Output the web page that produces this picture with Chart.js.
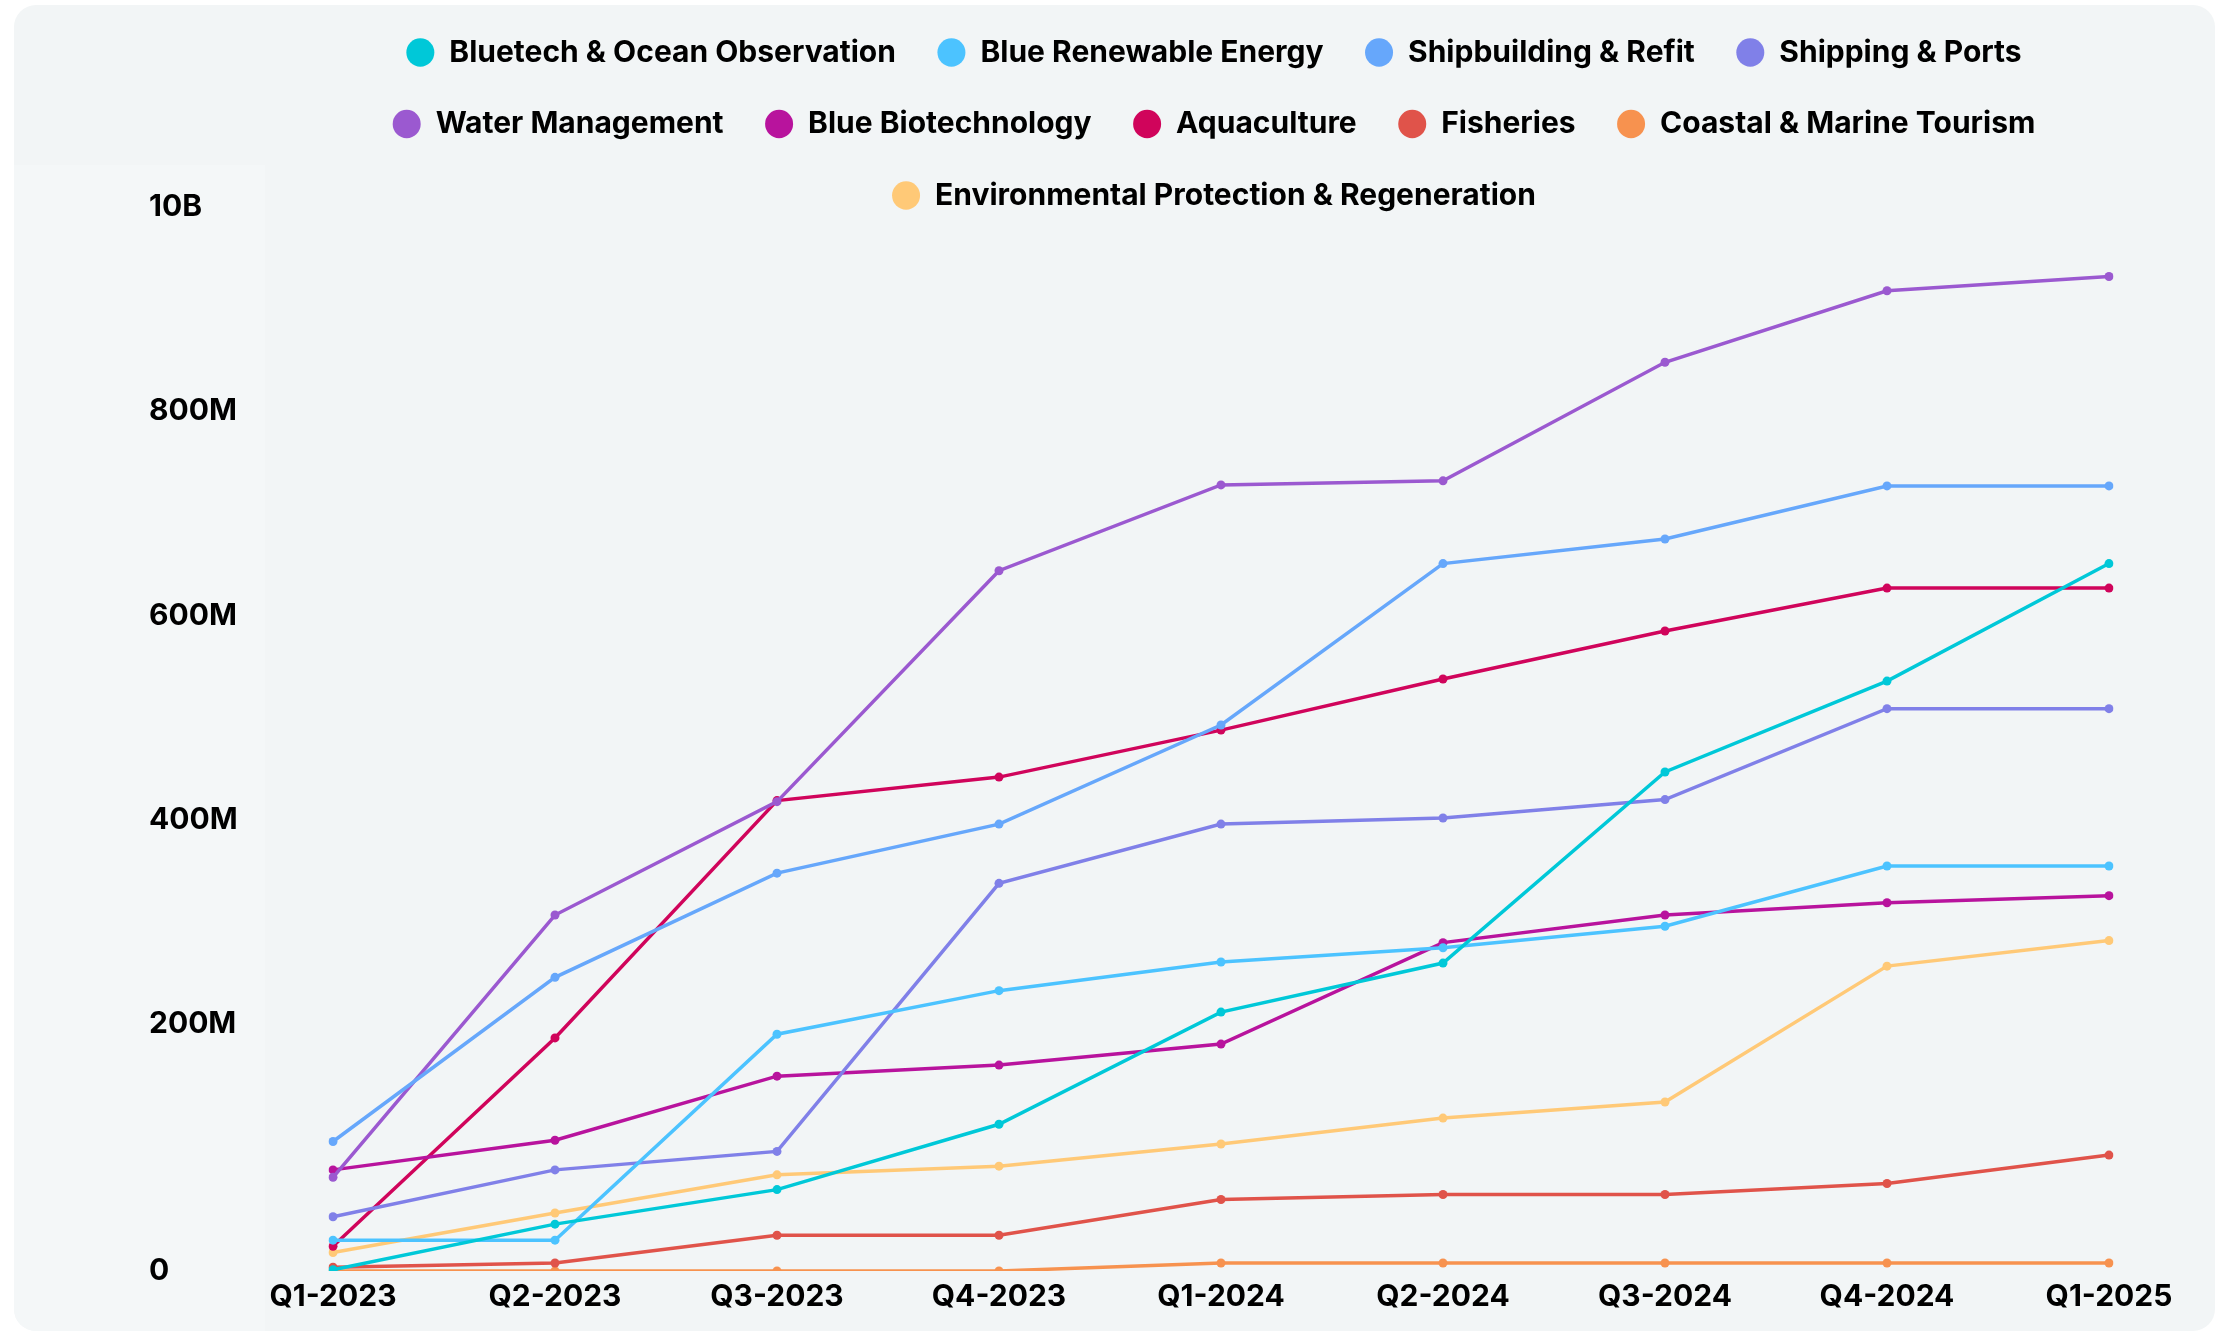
<!DOCTYPE html>
<html lang="en">
<head>
    <meta charset="UTF-8">
    <title>Blue Economy Funding by Sector</title>
    <script src="https://cdn.jsdelivr.net/npm/chart.js@4"></script>
    <style>
        body {
            margin: 0;
            background-color: #ffffff;
            font-family: Inter, sans-serif;
        }
        .card {
            position: absolute;
            left: 14px;
            top: 5px;
            width: 2201px;
            height: 1326px;
            background-color: #f2f5f6;
            border-radius: 22px;
            overflow: hidden;
        }
        .axis-panel {
            position: absolute;
            left: 0;
            top: 160px;
            width: 251px;
            bottom: 0;
            background-color: #f4f7f8;
        }
        canvas {
            position: absolute;
            left: 0;
            top: 0;
        }
    </style>
</head>
<body>
<div class="card">
    <div class="axis-panel"></div>
    <canvas id="sectorChart" width="2201" height="1326"></canvas>
</div>

<script>
    // values in millions
    const quarters = ['Q1-2023', 'Q2-2023', 'Q3-2023', 'Q4-2023', 'Q1-2024', 'Q2-2024', 'Q3-2024', 'Q4-2024', 'Q1-2025'];

    const bluetech      = [1, 38, 66, 119, 212, 260, 447, 536, 651];
    const renewable     = [25, 25, 192, 233, 261, 275, 296, 355, 355];
    const shipbuilding  = [105, 246, 348, 396, 493, 651, 675, 727, 727];
    const shipping      = [44, 82, 97, 338, 396, 402, 420, 509, 509];
    const water         = [76, 307, 418, 644, 728, 732, 848, 918, 932];
    const biotech       = [82, 106, 158, 167, 184, 280, 307, 319, 326];
    const aquaculture   = [20, 189, 419, 442, 488, 538, 585, 627, 627];
    const fisheries     = [3, 6.5, 29, 29, 58, 62, 62, 71, 94];
    const tourism       = [0, 0, 0, 0, 6.5, 6.5, 6.5, 6.5, 6.5];
    const environmental = [15, 47, 78, 85, 103, 124, 137, 257, 282];

    const yTickValues = [0, 200, 400, 600, 800, 1000];
    const yTickLabels = ['0', '200M', '400M', '600M', '800M', '10B'];

    // linear scale where the first band (0 -> breakValue) gets a fixed share of the height
    class SplitScale extends Chart.LinearScale {
        getPixelForValue(value) {
            if (value === null || value === undefined) return NaN;
            const b = this.options.breakValue;
            const s = this.options.breakShare;
            const d = value <= b
                ? (value - this.min) / (b - this.min) * s
                : s + (value - b) / (this.max - b) * (1 - s);
            return this.getPixelForDecimal(d);
        }
        getValueForPixel(pixel) {
            const b = this.options.breakValue;
            const s = this.options.breakShare;
            const d = this.getDecimalForPixel(pixel);
            return d <= s
                ? this.min + d / s * (b - this.min)
                : b + (d - s) / (1 - s) * (this.max - b);
        }
    }
    SplitScale.id = 'split';
    SplitScale.defaults = Chart.LinearScale.defaults;
    Chart.register(SplitScale);

    // legend sits over the plot only (right of the axis panel), wrapping to that width
    const legendBox = {
        id: 'legendBox',
        afterInit(chart, args, opts) {
            const legend = chart.legend;
            const fit = legend.fit;
            legend.fit = function () {
                const full = this.maxWidth;
                this.maxWidth = opts.right - opts.left;
                fit.call(this);
                this.maxWidth = full;
            };
        },
        afterLayout(chart, args, opts) {
            const legend = chart.legend;
            legend.left = opts.left;
            legend.right = opts.right;
            legend.bottom += 12;
        }
    };

    const font = { family: 'Inter, sans-serif', size: 30, weight: '700' };

    function series(label, data, color) {
        return {
            label: label,
            data: data,
            borderColor: color,
            backgroundColor: color,
            pointBackgroundColor: color,
            pointBorderWidth: 0,
            pointRadius: 4.5,
            borderWidth: 3.5,
            tension: 0,
            fill: false
        };
    }

    new Chart(document.getElementById('sectorChart'), {
        type: 'line',
        data: {
            labels: quarters,
            datasets: [
                series('Bluetech & Ocean Observation', bluetech, '#00c8d8'),
                series('Blue Renewable Energy', renewable, '#4cc3ff'),
                series('Shipbuilding & Refit', shipbuilding, '#66a7fb'),
                series('Shipping & Ports', shipping, '#8080e8'),
                series('Water Management', water, '#9b59d0'),
                series('Blue Biotechnology', biotech, '#b8139d'),
                series('Aquaculture', aquaculture, '#d0045b'),
                series('Fisheries', fisheries, '#e0534a'),
                series('Coastal & Marine Tourism', tourism, '#f7924f'),
                series('Environmental Protection & Regeneration', environmental, '#ffc977')
            ]
        },
        plugins: [legendBox],
        options: {
            responsive: false,
            animation: false,
            events: [],
            layout: {
                padding: { top: -9, left: 135, right: 106, bottom: 0 }
            },
            plugins: {
                tooltip: { enabled: false },
                legendBox: { left: 305, right: 2095 },
                legend: {
                    position: 'top',
                    maxHeight: 211,
                    labels: {
                        usePointStyle: true,
                        pointStyle: 'circle',
                        boxHeight: 20,
                        pointStyleWidth: 28,
                        padding: 41.5,
                        color: '#000000',
                        font: font
                    }
                }
            },
            scales: {
                x: {
                    grid: { display: false, drawTicks: false },
                    border: { display: false },
                    ticks: {
                        color: '#000000',
                        font: font,
                        padding: 8,
                        maxRotation: 0,
                        autoSkip: false
                    },
                    afterFit: (scale) => { scale.height = 60; }
                },
                y: {
                    type: 'split',
                    min: 0,
                    max: 1000,
                    breakValue: 200,
                    breakShare: 0.2318,
                    grid: { display: false, drawTicks: false },
                    border: { display: false },
                    ticks: {
                        color: '#000000',
                        font: font,
                        crossAlign: 'far',
                        autoSkip: false,
                        callback: (value, index) => yTickLabels[index]
                    },
                    afterBuildTicks: (scale) => {
                        scale.ticks = yTickValues.map(v => ({ value: v }));
                    },
                    afterFit: (scale) => {
                        scale.width = 184;
                        scale.paddingTop = 0;
                        scale.paddingBottom = 0;
                    }
                }
            }
        }
    });
</script>
</body>
</html>
